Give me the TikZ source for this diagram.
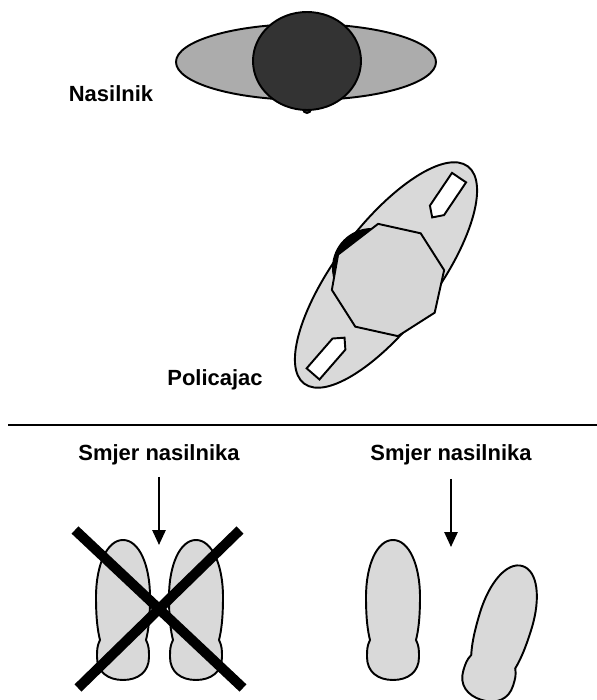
\documentclass[tikz,border=0pt]{standalone}
\usepackage{fontspec}
\setmainfont{Liberation Sans}
\usetikzlibrary{shapes.symbols, arrows.meta, positioning}

\begin{document}
\begin{tikzpicture}[
    x=0.02cm, y=0.02cm,
    outline/.style={draw=black, line width=1.1pt},
    title/.style={font=\fontsize{12.5}{15}\selectfont\bfseries, inner sep=0pt, anchor=base},
    arrow/.style={-{Triangle[length=8.5pt, width=7.5pt]}, line width=1.2pt},
    marker/.style={signal, signal to=east, outline, fill=white, minimum width=0.96cm, minimum height=0.34cm, inner sep=0pt},
    cross/.style={line width=5.7pt, draw=black},
    sole/.pic={
        \draw[outline, fill=gray!30] (0,70) .. controls (16,70) and (27,45) .. (27,13)
            .. controls (27,-10) and (25,-22) .. (23,-30) .. controls (26,-36) and (26,-40) .. (26,-47)
            .. controls (26,-62) and (15,-70) .. (0,-70) .. controls (-15,-70) and (-26,-62) .. (-26,-47)
            .. controls (-26,-40) and (-26,-36) .. (-23,-30) .. controls (-25,-22) and (-27,-10) .. (-27,13)
            .. controls (-27,45) and (-16,70) .. (0,70) -- cycle;
    },
]
    \useasboundingbox (0,0) rectangle (597,700);

    % attacker seen from above
    \draw[outline, fill=gray!65] (306,638) ellipse [x radius=130, y radius=38];
    \draw[outline, fill=black!80] (307,591) circle [radius=4];
    \draw[outline, fill=black!80] (307,639) ellipse [x radius=54, y radius=49];
    \node[title] (nasilnik) at (111,598) {Nasilnik};

    % officer seen from above
    \draw[outline, fill=gray!30, rotate around={53:(386,425)}] (386,425) ellipse [x radius=136, y radius=50];
    \fill[black] (372,432) circle [radius=40];
    \draw[outline, fill=gray!32, shift={(388,420)}] (10:57)
        \foreach \a/\r in {55/57, 100/57, 153/56, 190/57, 235/57, 280/57, 325/57} {-- (\a:\r)} -- cycle;
    \node[marker, rotate=236] (toeup) at (448,506) {};
    \node[marker, rotate=49] (toedown) at (326,341) {};
    \node[title] (policajac) at (215,314) {Policajac};

    \coordinate (lineleft) at (8,275);
    \coordinate (lineright) at (597,275);
    \draw[line width=1.2pt] (lineleft) -- (lineright);

    % wrong and right stance
    \node[title] (smjerleft) at (159,239) {Smjer nasilnika};
    \node[title] (smjerright) at (451,239) {Smjer nasilnika};
    \coordinate (leftstart) at (159,223);
    \coordinate (lefttip) at (159,155);
    \coordinate (rightstart) at (451,221);
    \coordinate (righttip) at (451,153);
    \draw[arrow] (leftstart) -- (lefttip);
    \draw[arrow] (rightstart) -- (righttip);

    \pic at (123,90) {sole};
    \pic at (196,90) {sole};
    \draw[cross] (75,170) -- (243,12);
    \draw[cross] (240,170) -- (78,12);

    \pic at (393,90) {sole};
    \pic[rotate=-17] at (502,67) {sole};
\end{tikzpicture}
\end{document}
